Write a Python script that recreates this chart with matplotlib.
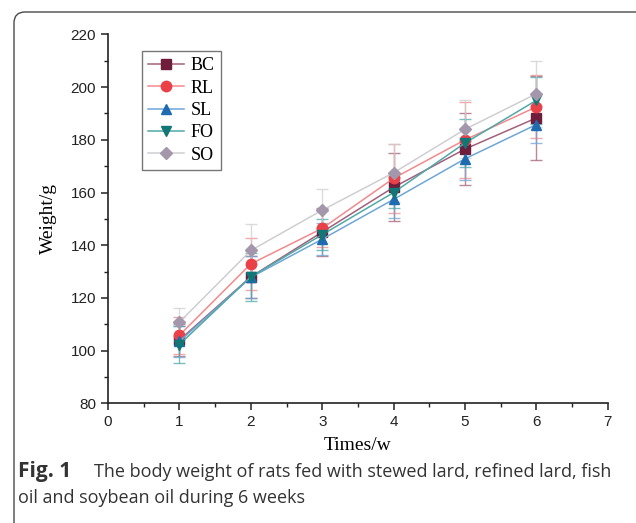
import matplotlib.pyplot as plt
from matplotlib.patches import FancyBboxPatch
from matplotlib.ticker import MultipleLocator
from matplotlib.transforms import IdentityTransform

# data (body weight, g)
WEEKS = [1, 2, 3, 4, 5, 6]
GROUPS = ["BC", "RL", "SL", "FO", "SO"]

BC = [104.0, 128.0, 145.0, 162.0, 176.5, 188.3]
RL = [105.8, 132.9, 146.4, 165.4, 180.0, 192.5]
SL = [103.5, 127.8, 142.3, 157.4, 172.8, 185.8]
FO = [102.3, 128.0, 144.0, 160.0, 178.8, 195.0]
SO = [110.8, 138.0, 153.3, 167.5, 184.0, 197.5]

BC_ERR = [6, 8, 9, 13, 13.5, 16]
RL_ERR = [7, 10, 7, 13, 14.5, 12]
SL_ERR = [6, 8, 6, 7, 8, 7]
FO_ERR = [7, 9, 6, 6, 9, 9]
SO_ERR = [5.5, 10, 8, 11, 11, 12.5]

# style per group: marker colour, line colour, marker shape
STYLES = {
    "BC": ("#6e1d3b", "#a3607a", "s"),
    "RL": ("#ea4148", "#f28a8c", "o"),
    "SL": ("#1e6bb0", "#6fa6d6", "^"),
    "FO": ("#137676", "#4fa9a8", "v"),
    "SO": ("#a597ab", "#cfcfd3", "D"),
}

values = {"BC": BC, "RL": RL, "SL": SL, "FO": FO, "SO": SO}
errors = {"BC": BC_ERR, "RL": RL_ERR, "SL": SL_ERR, "FO": FO_ERR, "SO": SO_ERR}

fig = plt.figure(figsize=(6.36, 5.23), dpi=100)
fig.patch.set_facecolor("white")

# rounded frame around the figure (only left and top edges visible)
frame = FancyBboxPatch((14, -60), 800, 523 - 12 + 60,
                       boxstyle="round,pad=0,rounding_size=11",
                       transform=IdentityTransform(), fill=False,
                       edgecolor="#4a4a4a", linewidth=1.0)
fig.patches.append(frame)

ax = fig.add_axes([0.1698, 0.2289, 0.786, 0.7053])

handles = []
for name in GROUPS:
    mcol, lcol, mk = STYLES[name]
    ax.errorbar(WEEKS, values[name], yerr=errors[name], fmt="none",
                ecolor=lcol, elinewidth=1.0, capsize=4, capthick=1.0,
                alpha=0.75, zorder=2)
    ms = 6.5 if mk == "D" else 7.5
    h, = ax.plot(WEEKS, values[name], color=lcol, linewidth=1.1,
                 marker=mk, markersize=ms, markerfacecolor=mcol,
                 markeredgecolor=mcol, label=name, zorder=3)
    handles.append(h)

ax.set_xlim(0, 7)
ax.set_ylim(80, 220)
ax.xaxis.set_major_locator(MultipleLocator(1))
ax.xaxis.set_minor_locator(MultipleLocator(0.5))
ax.yaxis.set_major_locator(MultipleLocator(20))
ax.yaxis.set_minor_locator(MultipleLocator(10))

for side in ["top", "right"]:
    ax.spines[side].set_visible(False)
for side in ["left", "bottom"]:
    ax.spines[side].set_linewidth(1.2)
    ax.spines[side].set_color("#222222")

ax.tick_params(which="major", direction="out", length=5, width=1.1,
               labelsize=11, colors="#222222")
ax.tick_params(which="minor", direction="out", length=3, width=1.0,
               colors="#222222")
for lbl in ax.get_xticklabels() + ax.get_yticklabels():
    lbl.set_fontfamily("Liberation Sans")

ax.set_xlabel("Times/w", fontfamily="Liberation Serif", fontsize=14,
              labelpad=6)
ax.set_ylabel("Weight/g", fontfamily="Liberation Serif", fontsize=14,
              labelpad=10)

leg = ax.legend(handles=handles, loc="upper left",
                bbox_to_anchor=(0.05, 0.98), fancybox=False,
                edgecolor="#777777", framealpha=1, handlelength=2.0,
                borderpad=0.35, labelspacing=0.3, handletextpad=0.35,
                prop={"family": "Liberation Serif", "size": 13})
leg.get_frame().set_linewidth(1.0)

# caption
fig.text(18 / 636, 0.088, "Fig. 1", fontfamily="Open Sans",
         fontweight="bold", fontsize=15, color="#333333", va="baseline")
fig.text(94 / 636, 0.088,
         "The body weight of rats fed with stewed lard, refined lard, fish",
         fontfamily="Open Sans", fontsize=13, color="#333333",
         va="baseline")
fig.text(18 / 636, 0.038, "oil and soybean oil during 6 weeks",
         fontfamily="Open Sans", fontsize=13, color="#333333",
         va="baseline")

fig.savefig("out.png", dpi=100, facecolor="white")
